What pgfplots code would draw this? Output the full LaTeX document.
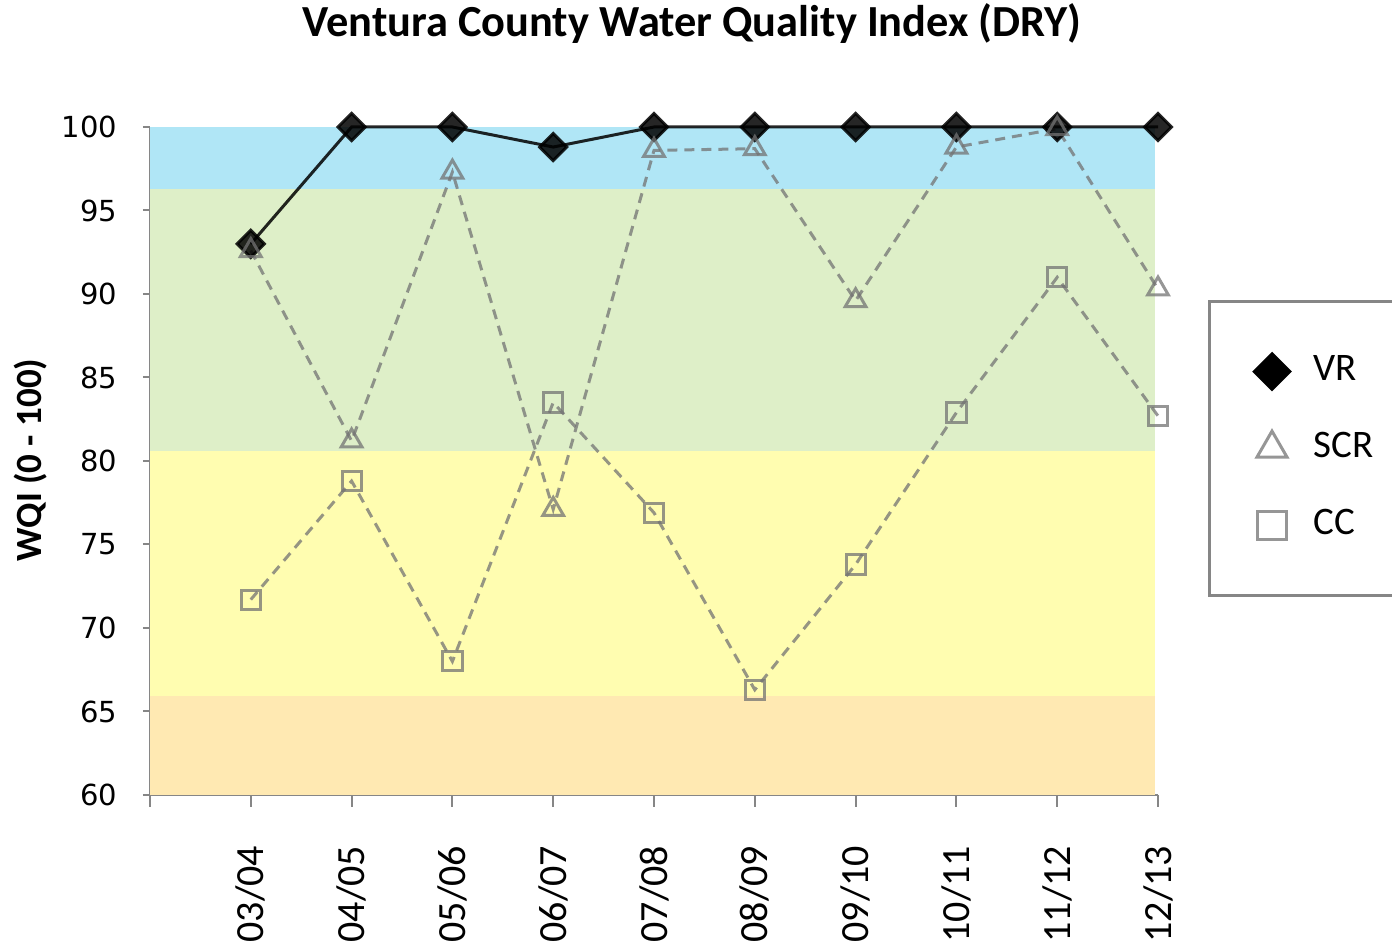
\documentclass[border=0pt]{standalone}
\usepackage{pgfplots}
\pgfplotsset{compat=1.18}
\usepackage{fontspec}
\setmainfont{Carlito}
\newfontfamily\dejavu{DejaVu Sans}
\definecolor{bandblue}{RGB}{176,230,246}
\definecolor{bandgreen}{RGB}{222,239,200}
\definecolor{bandyellow}{RGB}{255,253,176}
\definecolor{bandorange}{RGB}{255,233,178}
\definecolor{axisgray}{RGB}{134,134,134}
\definecolor{sergray}{RGB}{115,115,115}
\begin{document}
\begin{tikzpicture}[x=1pt,y=1pt]
\path[use as bounding box] (0,0) rectangle (696,473.5);
\node[font=\bfseries\fontsize{22.2}{26}\selectfont] at (346,461.5) {Ventura County Water Quality Index (DRY)};
\begin{axis}[
  at={(75pt,76pt)}, anchor=south west,
  scale only axis, width=504pt, height=334pt,
  xmin=-1, xmax=9, ymin=60, ymax=100,
  xtick={-1,0,1,2,3,4,5,6,7,8,9},
  xticklabels={,03/04,04/05,05/06,06/07,07/08,08/09,09/10,10/11,11/12,12/13},
  ytick={60,65,...,100},
  axis x line*=bottom, axis y line*=left,
  axis line style={draw=axisgray, line width=1pt},
  tick style={draw=axisgray, line width=1pt},
  tick align=outside,
  xtick style={/pgfplots/major tick length=6pt},
  ytick style={/pgfplots/major tick length=3.5pt},
  xticklabel style={rotate=90, anchor=east, inner sep=0pt, font=\fontsize{20}{22}\selectfont},
  xticklabel shift=21pt,
  yticklabel style={anchor=east, inner sep=0pt, font=\dejavu\fontsize{14.5}{17}\selectfont},
  yticklabel shift=12pt,
  /pgf/number format/assume math mode=true,
  ylabel={\bfseries WQI (0 - 100)},
  ylabel style={at={(rel axis cs:-0.118,0.5015)}, anchor=center, font=\fontsize{18.5}{20}\selectfont},
  clip=false,
  legend cell align=left,
  legend image code/.code={\path (-9pt,0pt) (9pt,0pt);\draw[#1,only marks] plot coordinates {(0pt,0pt)};},
  legend style={at={(rel axis cs:1.0496,0.741)}, anchor=north west,
    draw=axisgray, line width=1.5pt, fill=white,
    font=\fontsize{19.5}{22}\selectfont,
    inner xsep=21.5pt, inner ysep=25.5pt, row sep=19.5pt, column sep=11pt,
    nodes={inner sep=0pt, text height=14pt, text depth=5pt}},
]
\addplot[fill=bandorange, draw=none, forget plot] coordinates {(-1,60) (8.97,60) (8.97,65.9) (-1,65.9)} -- cycle;
\addplot[fill=bandyellow, draw=none, forget plot] coordinates {(-1,65.9) (8.97,65.9) (8.97,80.6) (-1,80.6)} -- cycle;
\addplot[fill=bandgreen, draw=none, forget plot] coordinates {(-1,80.6) (8.97,80.6) (8.97,96.3) (-1,96.3)} -- cycle;
\addplot[fill=bandblue, draw=none, forget plot] coordinates {(-1,96.3) (8.97,96.3) (8.97,100) (-1,100)} -- cycle;

\addplot[black, opacity=0.85, line width=1.5pt, mark=square*, mark size=4.8pt, mark options={rotate=45, solid, fill=black},
  legend image post style={opacity=1, every mark/.append style={scale=1.3}}]
coordinates {(0,93.0) (1,100) (2,100) (3,98.8) (4,100) (5,100) (6,100) (7,100) (8,100) (9,100)};
\addlegendentry{VR}
\addplot[sergray, opacity=0.75, line width=1.5pt, dash pattern=on 5pt off 3.5pt, mark=triangle, mark size=6pt, mark options={solid, fill=none},
  legend image post style={every mark/.append style={scale=1.45}}]
coordinates {(0,92.6) (1,81.2) (2,97.3) (3,77.1) (4,98.6) (5,98.7) (6,89.6) (7,98.8) (8,99.9) (9,90.3)};
\addlegendentry{SCR}
\addplot[sergray, opacity=0.75, line width=1.5pt, dash pattern=on 5pt off 3.5pt, mark=square, mark size=4.8pt, mark options={solid, fill=none},
  legend image post style={every mark/.append style={scale=1.5}}]
coordinates {(0,71.7) (1,78.8) (2,68.0) (3,83.5) (4,76.9) (5,66.3) (6,73.8) (7,82.9) (8,91.0) (9,82.7)};
\addlegendentry{CC}
\end{axis}
\end{tikzpicture}
\end{document}
